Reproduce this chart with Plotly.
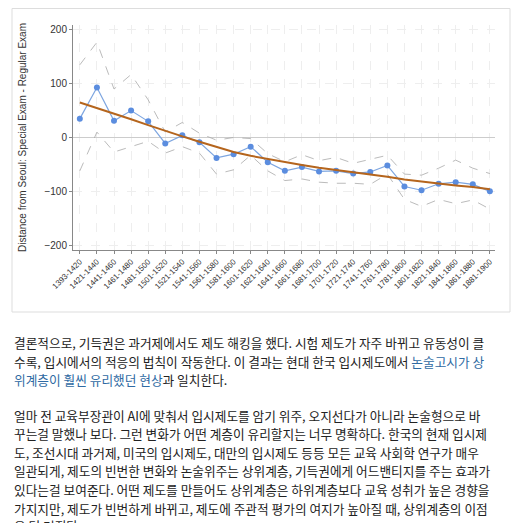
import plotly.graph_objects as go

periods = ["1393-1420","1421-1440","1441-1460","1461-1480","1481-1500","1501-1520","1521-1540",
           "1541-1560","1561-1580","1581-1600","1601-1620","1621-1640","1641-1660","1661-1680",
           "1681-1700","1701-1720","1721-1740","1741-1760","1761-1780","1781-1800","1801-1820",
           "1821-1840","1841-1860","1861-1880","1881-1900"]
estimate = [35,93,31,50,30,-11,4,-9,-38,-31,-17,-46,-62,-55,-63,-62,-67,-64,-52,-91,-98,-86,-83,-87,-100]
upper = [135,177,90,117,70,10,28,8,-5,0,-2,-30,-45,-32,-43,-37,-48,-40,-33,-68,-70,-57,-42,-57,-67]
lower = [-62,10,-27,-17,-7,-29,-17,-29,-68,-60,-33,-62,-80,-77,-83,-85,-85,-87,-68,-115,-128,-115,-123,-116,-133]
fit = [65,55,44,34,23,12,2,-8,-18,-27,-34,-40,-46,-51,-56,-60,-64,-68,-73,-78,-82,-86,-89,-92,-96]

lines = [
    ("결론적으로, 기득권은 과거제에서도 제도 해킹을 했다. 시험 제도가 자주 바뀌고 유동성이 클", 342),
    ("수록, 입시에서의 적응의 법칙이 작동한다. 이 결과는 현대 한국 입시제도에서 <span style='color:#2f6aa3'>논술고시가 상</span>", 361),
    ("<span style='color:#2f6aa3'>위계층이 훨씬 유리했던 현상</span>과 일치한다.", 379),
    ("얼마 전 교육부장관이 AI에 맞춰서 입시제도를 암기 위주, 오지선다가 아니라 논술형으로 바", 415),
    ("꾸는걸 말했나 보다. 그런 변화가 어떤 계층이 유리할지는 너무 명확하다. 한국의 현재 입시제", 433),
    ("도, 조선시대 과거제, 미국의 입시제도, 대만의 입시제도 등등 모든 교육 사회학 연구가 매우", 452),
    ("일관되게, 제도의 빈번한 변화와 논술위주는 상위계층, 기득권에게 어드밴티지를 주는 효과가", 470),
    ("있다는걸 보여준다. 어떤 제도를 만들어도 상위계층은 하위계층보다 교육 성취가 높은 경향을", 489),
    ("가지지만, 제도가 빈번하게 바뀌고, 제도에 주관적 평가의 여지가 높아질 때, 상위계층의 이점", 508),
    ("은 더 커진다.", 525),
]

OFF = 8  # page body margin
W, H = 506, 515
def px(x): return (x - OFF) / W
def py(y): return 1 - (y - OFF) / H

fig = go.Figure()
grey = "rgba(170,170,170,0.8)"
fig.add_trace(go.Scatter(x=periods, y=upper, mode="lines", line=dict(color=grey, width=1, dash="dash")))
fig.add_trace(go.Scatter(x=periods, y=lower, mode="lines", line=dict(color=grey, width=1, dash="dash")))
fig.add_trace(go.Scatter(x=periods, y=estimate, mode="lines+markers",
                         line=dict(color="#7ea6e0", width=1.2), marker=dict(color="#5b8ddf", size=6)))
fig.add_trace(go.Scatter(x=periods, y=fit, mode="lines", line=dict(color="#b5651d", width=2)))

anns = []
for txt, yc in lines:
    anns.append(dict(text=txt, x=px(12), y=py(yc), xref="paper", yref="paper", xanchor="left",
                     yanchor="middle", showarrow=False,
                     font=dict(family="Noto Sans CJK KR", size=12.7, color="#222")))

fig.update_layout(
    width=W, height=H, margin=dict(l=0, r=0, t=0, b=0), showlegend=False,
    paper_bgcolor="white", plot_bgcolor="white",
    font=dict(family="Liberation Sans, Arial", color="#333"),
    annotations=anns,
    shapes=[dict(type="rect", xref="paper", yref="paper", x0=px(12), x1=px(510), y0=py(312), y1=py(8.5),
                 line=dict(color="#dddddd", width=1))],
    xaxis=dict(domain=[px(73), px(495)], tickangle=-45, tickfont=dict(size=8), automargin=False,
               showgrid=True, gridcolor="#eeeeee", griddash="dash", showline=True, linecolor="#888",
               ticks="outside", ticklen=3, tickcolor="#888", range=[-0.4, 24.3]),
    yaxis=dict(domain=[py(250), py(25)], range=[-209, 209], tickvals=[-200, -100, 0, 100, 200],
               tickfont=dict(size=10), showgrid=True, gridcolor="#eeeeee", griddash="dash", automargin=False,
               zeroline=True, zerolinecolor="#cccccc", zerolinewidth=1, showline=True, linecolor="#888",
               ticks="outside", ticklen=3, tickcolor="#888",
               title=dict(text="Distance from Seoul: Special Exam - Regular Exam", font=dict(size=10))),
)
fig.write_html("out.html")
